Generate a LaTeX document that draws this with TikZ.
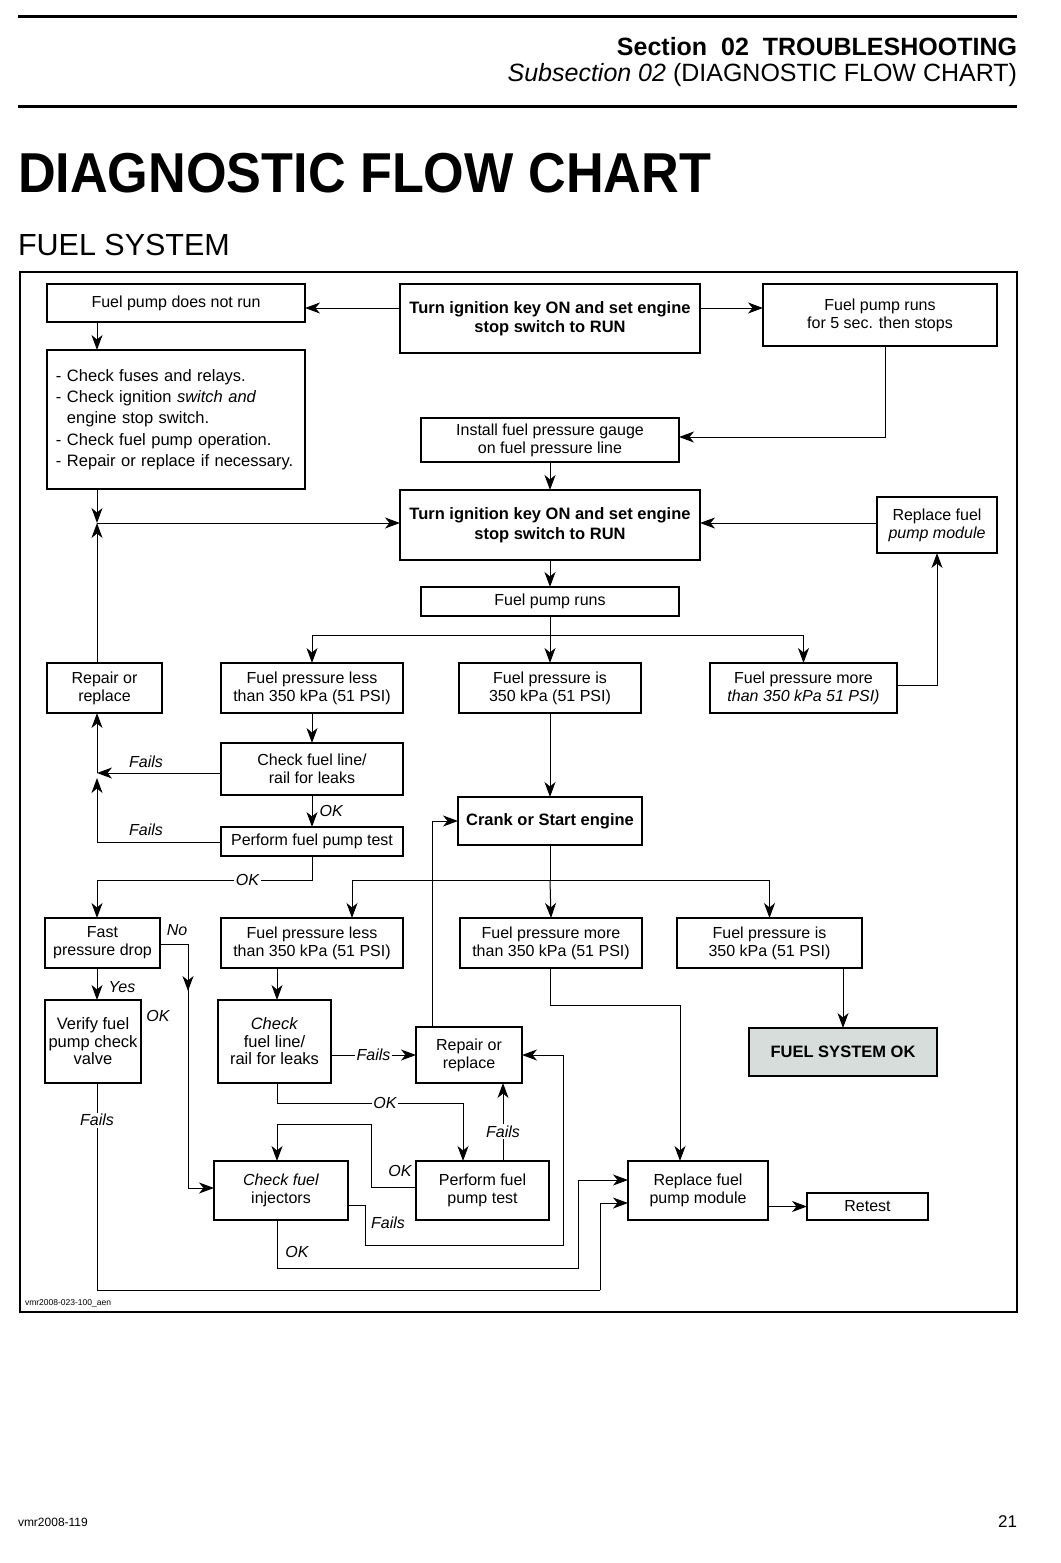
\documentclass[tikz,border=0pt]{standalone}
\usepackage{fontspec}
\setmainfont{Liberation Sans}
\usetikzlibrary{arrows.meta}
\definecolor{okfill}{HTML}{D6DDDB}
\newcommand\fsbox{\fontsize{16bp}{18bp}\selectfont}
\newcommand\fcbox[7]{\node[#6, minimum width={(#4-#2)*1bp}, minimum height={(#5-#3)*1bp}] (#1) at ({(#2+#4)/2},{(#3+#5)/2}) {#7};}
\begin{document}
\begin{tikzpicture}[x=1bp,y=-1bp,line join=miter,
  box/.style={draw, line width=1.1bp, inner sep=0pt, outer sep=0pt, align=center, font=\fsbox},
  bbox/.style={box, line width=2.5bp, font=\fontsize{16.5bp}{19.5bp}\selectfont\bfseries},
  arr/.style={draw, line width=1bp, -{Stealth[length=15bp,width=11bp,inset=4.5bp]}},
  ln/.style={draw, line width=1bp},
  lab/.style={font=\fsbox\itshape, inner sep=1.5bp},
  wlab/.style={lab, fill=white},
  txt/.style={inner sep=0pt, outer sep=0pt}]
\useasboundingbox (0,0) rectangle (1060,1563);
% header
\draw[line width=3bp] (18,17) -- (1017,17);
\draw[line width=3bp] (18,107) -- (1017,107);
\node[txt, anchor=base east] (sec) at (1017,56) {\fontsize{25bp}{25bp}\selectfont\bfseries Section\ \ 02\ \ TROUBLESHOOTING};
\node[txt, anchor=base east] (subsec) at (1017,82) {\fontsize{25bp}{25bp}\selectfont\textit{Subsection 02} (DIAGNOSTIC FLOW CHART)};
\node[txt, anchor=base west] (title) at (18,192) {\scalebox{0.9}[0.97]{\fontsize{58bp}{58bp}\selectfont\bfseries DIAGNOSTIC FLOW CHART}};
\node[txt, anchor=base west] (fuelsys) at (18,255) {\fontsize{30.5bp}{30bp}\selectfont FUEL SYSTEM};
% frame
\draw[line width=1.5bp] (20,272) rectangle (1017,1312);
\node[txt, anchor=base west] (figid) at (25,1305) {\fontsize{8.5bp}{9bp}\selectfont vmr2008-023-100\_aen};
% footer
\node[txt, anchor=base west] (foot) at (18,1526) {\fontsize{12bp}{12bp}\selectfont vmr2008-119};
\node[txt, anchor=base east] (page) at (1017,1527) {\fontsize{17bp}{17bp}\selectfont 21};

% boxes
\fcbox{nrun}{47}{284}{305}{322}{box}{Fuel pump does not run}
\fcbox{turn1}{400}{284}{700}{353}{bbox}{Turn ignition key ON and set engine\\stop switch to RUN}
\fcbox{runs5}{763}{284}{997}{346}{box}{Fuel pump runs\\for 5 sec. then stops}
\fcbox{check}{47}{350}{305}{489}{box,align=left,text width=240bp,font=\fontsize{16.5bp}{21.3bp}\selectfont}{- Check fuses and relays.\\- Check ignition \textit{switch and}\\\hphantom{- }engine stop switch.\\- Check fuel pump operation.\\- Repair or replace if necessary.}
\fcbox{install}{421}{418}{679}{462}{box}{Install fuel pressure gauge\\on fuel pressure line}
\fcbox{turn2}{400}{490}{700}{560}{bbox}{Turn ignition key ON and set engine\\stop switch to RUN}
\fcbox{repmod}{877}{497}{997}{553}{box}{Replace fuel\\\textit{pump module}}
\fcbox{pruns}{421}{587}{679}{616}{box}{Fuel pump runs}
\fcbox{rep1}{47}{663}{162}{713}{box}{Repair or\\replace}
\fcbox{less1}{221}{663}{403}{713}{box}{Fuel pressure less\\than 350 kPa (51 PSI)}
\fcbox{is1}{459}{663}{641}{713}{box}{Fuel pressure is\\350 kPa (51 PSI)}
\fcbox{more1}{710}{663}{897}{713}{box}{Fuel pressure more\\\textit{than 350 kPa 51 PSI)}}
\fcbox{cfl1}{221}{743}{403}{795}{box}{Check fuel line/\\rail for leaks}
\fcbox{ppt1}{221}{827}{403}{856}{box}{Perform fuel pump test}
\fcbox{crank}{458}{797}{642}{845}{bbox}{Crank or Start engine}
\fcbox{fast}{45}{918}{160}{968}{box}{Fast\\pressure drop}
\fcbox{less2}{221}{918}{403}{968}{box}{Fuel pressure less\\than 350 kPa (51 PSI)}
\fcbox{more2}{460}{918}{642}{968}{box}{Fuel pressure more\\than 350 kPa (51 PSI)}
\fcbox{is2}{677}{918}{862}{968}{box}{Fuel pressure is\\350 kPa (51 PSI)}
\fcbox{verify}{45}{1000}{141}{1083}{box,font=\fontsize{16.5bp}{17.5bp}\selectfont}{Verify fuel\\pump check\\valve}
\fcbox{cfl2}{218}{1000}{331}{1083}{box,font=\fontsize{16.5bp}{17.5bp}\selectfont}{\textit{Check}\\fuel line/\\rail for leaks}
\fcbox{rep2}{416}{1027}{522}{1083}{box}{Repair or\\replace}
\fcbox{fsok}{749}{1028}{937}{1076}{bbox,fill=okfill}{FUEL SYSTEM OK}
\fcbox{inj}{214}{1161}{348}{1220}{box}{\textit{Check fuel}\\injectors}
\fcbox{ppt2}{416}{1161}{549}{1220}{box}{Perform fuel\\pump test}
\fcbox{repmod2}{628}{1161}{768}{1220}{box}{Replace fuel\\pump module}
\fcbox{retest}{807}{1193}{928}{1220}{box}{Retest}

% junction coordinates
\coordinate (jL) at (97,523);
\coordinate (jF) at (97,773);
\coordinate (jB1) at (550,635);
\coordinate (jB2) at (550,880);

% connectors - top
\draw[arr] (turn1.west |- 0,308) -- (nrun.east |- 0,308);
\draw[arr] (turn1.east |- 0,308) -- (runs5.west |- 0,308);
\draw[arr] (97,0 |- nrun.south) -- (97,0 |- check.north);
\draw[arr] (885,0 |- runs5.south) |- (install.east |- 0,437);
\draw[arr] (install.south) -- (turn2.north);
\draw[arr] (turn2.south) -- (pruns.north);
\draw[arr] (97,0 |- check.south) -- (jL);
\draw[arr] (97,0 |- rep1.north) -- (jL);
\draw[arr] (jL) -- (turn2.west |- jL);
\draw[arr] (repmod.west |- jL) -- (turn2.east |- jL);
\draw[ln] (pruns.south) -- (jB1);
\draw[arr] (jB1) -| (less1.north);
\draw[arr] (jB1) -- (is1.north);
\draw[arr] (jB1) -| (more1.north);
\draw[arr] (more1.east |- 0,685) -| (repmod.south);
\draw[arr] (is1.south) -- (crank.north);
\draw[arr] (less1.south) -- (cfl1.north);
\draw[arr] (cfl1.south) -- (ppt1.north);
\node[lab, anchor=west] (okA) at (318,811) {OK};
\draw[arr] (cfl1.west |- jF) -- (jF);
\node[lab] (failA) at (146,762) {Fails};
\draw[arr] (jF) -- (97,0 |- rep1.south);
\draw[arr] (ppt1.west |- 0,842) -- (97,842) -- (97,778);
\node[lab] (failB) at (146,830) {Fails};
\draw[arr] (ppt1.south) -- (312,880) -- node[wlab, pos=0.3] (okB) {OK} (97,880) -- (97,0 |- fast.north);

% crank branch
\draw[ln] (crank.south) -- (jB2);
\draw[arr] (jB2) -| (352,0 |- less2.north);
\draw[arr] (jB2) -- (more2.north);
\draw[arr] (jB2) -| (is2.north);
\draw[arr] (fsok.north |- is2.south) -- (fsok.north);

% left lower
\draw[arr] (fast.east |- 0,944) -| (188,991);
\node[lab] (noL) at (177,930) {No};
\draw[arr] (188,986) |- (inj.west |- 0,1188);
\draw[arr] (97,0 |- fast.south) -- (97,0 |- verify.north);
\node[lab] (yesL) at (122,987) {Yes};
\node[lab] (okC) at (158,1016) {OK};
\draw[ln] (97,0 |- verify.south) -- node[wlab, pos=0.18] (failC) {Fails} (97,1290) -- (600,1290);
\draw[arr] (600,1290) |- (repmod2.west |- 0,1203);

% middle lower
\draw[arr] (277,0 |- less2.south) -- (277,0 |- cfl2.north);
\draw[arr] (cfl2.east |- rep2.west) -- node[wlab] (failD) {Fails} (rep2.west);
\draw[arr] (277,0 |- cfl2.south) -- (277,1103) -- node[wlab, pos=0.58] (okD) {OK} (463,1103) -- (463,0 |- ppt2.north);
\draw[arr] (503,0 |- ppt2.north) -- node[wlab, pos=0.38] (failE) {Fails} (503,0 |- rep2.south);
\draw[arr] (ppt2.west |- 0,1187) -- (371,1187) -- (371,1124) -- (277,1124) -- (277,0 |- inj.north);
\node[lab] (okE) at (400,1171) {OK};
\draw[arr] (inj.east |- 0,1205) -- (365,1205) -- (365,1245) -- (563,1245) -- (563,0 |- rep2.east) -- (rep2.east);
\node[lab] (failF) at (388,1223) {Fails};
\draw[arr] (277,0 |- inj.south) -- (277,1268) -- (578,1268) -- (578,1180) -- (repmod2.west |- 0,1180);
\node[lab] (okF) at (297,1252) {OK};
\draw[arr] (432,0 |- rep2.north) |- (crank.west);
\draw[arr] (550,0 |- more2.south) -- (550,1005) -- (680,1005) -- (680,0 |- repmod2.north);
\draw[arr] (repmod2.east |- retest.west) -- (retest.west);
\end{tikzpicture}
\end{document}
